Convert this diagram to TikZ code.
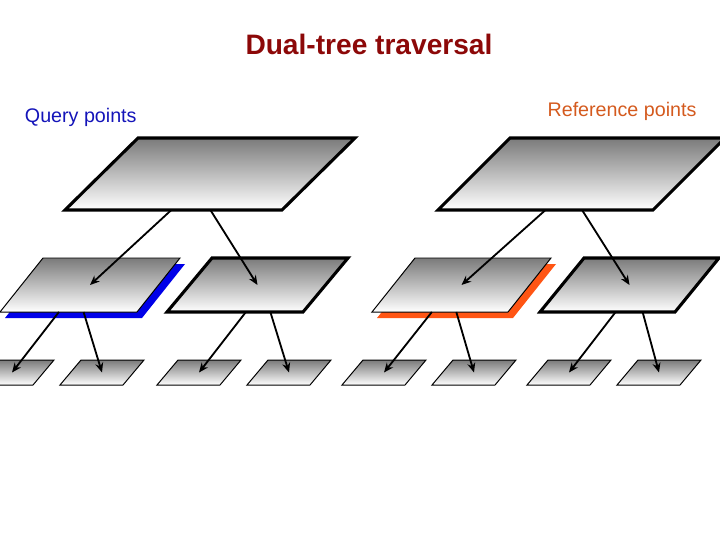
\documentclass[tikz,border=0pt]{standalone}
\usepackage{fontspec}
\setmainfont{Liberation Sans}
\usepackage{tikz}
\usetikzlibrary{arrows.meta, calc}
\definecolor{titlered}{RGB}{140, 8, 8}
\definecolor{queryblue}{RGB}{20, 20, 185}
\definecolor{reforange}{RGB}{212, 90, 30}
\definecolor{qshadow}{RGB}{0, 0, 232}
\definecolor{rshadow}{RGB}{255, 85, 20}
\tikzset{
    plateshade/.style={top color=black!52, bottom color=white, draw=none},
    bigplate/.style={line width=2.2pt},
    thinplate/.style={line width=0.7pt},
    edge/.style={-{Stealth[length=2.4mm, width=2mm]}, line width=1.3pt},
    title/.style={font=\fontsize{20}{24}\selectfont\bfseries, text=titlered},
    side/.style={font=\fontsize{14}{17}\selectfont},
    pics/plate/.style n args={3}{code={
        % #1 bottom width, #2 height, #3 slant
        \shade[plateshade] (0,0) -- (#1,0) -- (#1+#3,-#2) -- (#3,-#2) -- cycle;
        \draw (0,0) -- (#1,0) -- (#1+#3,-#2) -- (#3,-#2) -- cycle;
        \coordinate (-c) at ({(#1+#3)/2},{-#2/2});
        \coordinate (-bl) at (0,0);
        \coordinate (-br) at (#1,0);
    }},
    pics/backing/.style n args={3}{code={
        \fill (0,0) -- (#1,0) -- (#1+#3,-#2) -- (#3,-#2) -- cycle;
    }},
}

\begin{document}
\begin{tikzpicture}[x=0.025cm, y=-0.025cm]
    \useasboundingbox (0,0) rectangle (720,540);
    \clip (0,0) rectangle (720,540);

    % labels
    \node[title] (head) at (369,44) {Dual-tree traversal};
    \node[side, text=queryblue, anchor=west] (qlabel) at (20,117) {Query points};
    \node[side, text=reforange] (rlabel) at (622,111) {Reference points};

    % roots
    \pic[bigplate] (q) at (65,210) {plate={217}{72}{73}};
    \pic[bigplate] (r) at (438,210) {plate={215}{72}{72}};

    % second level, highlighted ones sit on a coloured backing
    \pic[fill=qshadow] at (5,318) {backing={137}{54}{43}};
    \pic[thinplate] (q1) at (0,312) {plate={137}{54}{43}};
    \pic[bigplate] (q2) at (167,312) {plate={136}{54}{45}};
    \pic[fill=rshadow] at (377,318) {backing={136}{54}{43}};
    \pic[thinplate] (r1) at (372,312) {plate={136}{54}{43}};
    \pic[bigplate] (r2) at (540,312) {plate={135}{54}{44}};

    % leaves
    \foreach \x/\n in {-30/q11, 60/q12, 157/q21, 247/q22, 342/r11, 432/r12, 527/r21, 617/r22}
        \pic[thinplate] (\n) at (\x,385) {plate={63}{25}{21}};

    % arrows
    \draw[edge] ($(q-bl)!0.49!(q-br)$) -- (q1-c);
    \draw[edge] ($(q-bl)!0.67!(q-br)$) -- (q2-c);
    \draw[edge] ($(r-bl)!0.50!(r-br)$) -- (r1-c);
    \draw[edge] ($(r-bl)!0.67!(r-br)$) -- (r2-c);

    \draw[edge] ($(q1-bl)!0.43!(q1-br)$) -- (q11-c);
    \draw[edge] ($(q1-bl)!0.61!(q1-br)$) -- (q12-c);
    \draw[edge] ($(q2-bl)!0.58!(q2-br)$) -- (q21-c);
    \draw[edge] ($(q2-bl)!0.76!(q2-br)$) -- (q22-c);
    \draw[edge] ($(r1-bl)!0.44!(r1-br)$) -- (r11-c);
    \draw[edge] ($(r1-bl)!0.62!(r1-br)$) -- (r12-c);
    \draw[edge] ($(r2-bl)!0.56!(r2-br)$) -- (r21-c);
    \draw[edge] ($(r2-bl)!0.76!(r2-br)$) -- (r22-c);
\end{tikzpicture}
\end{document}
